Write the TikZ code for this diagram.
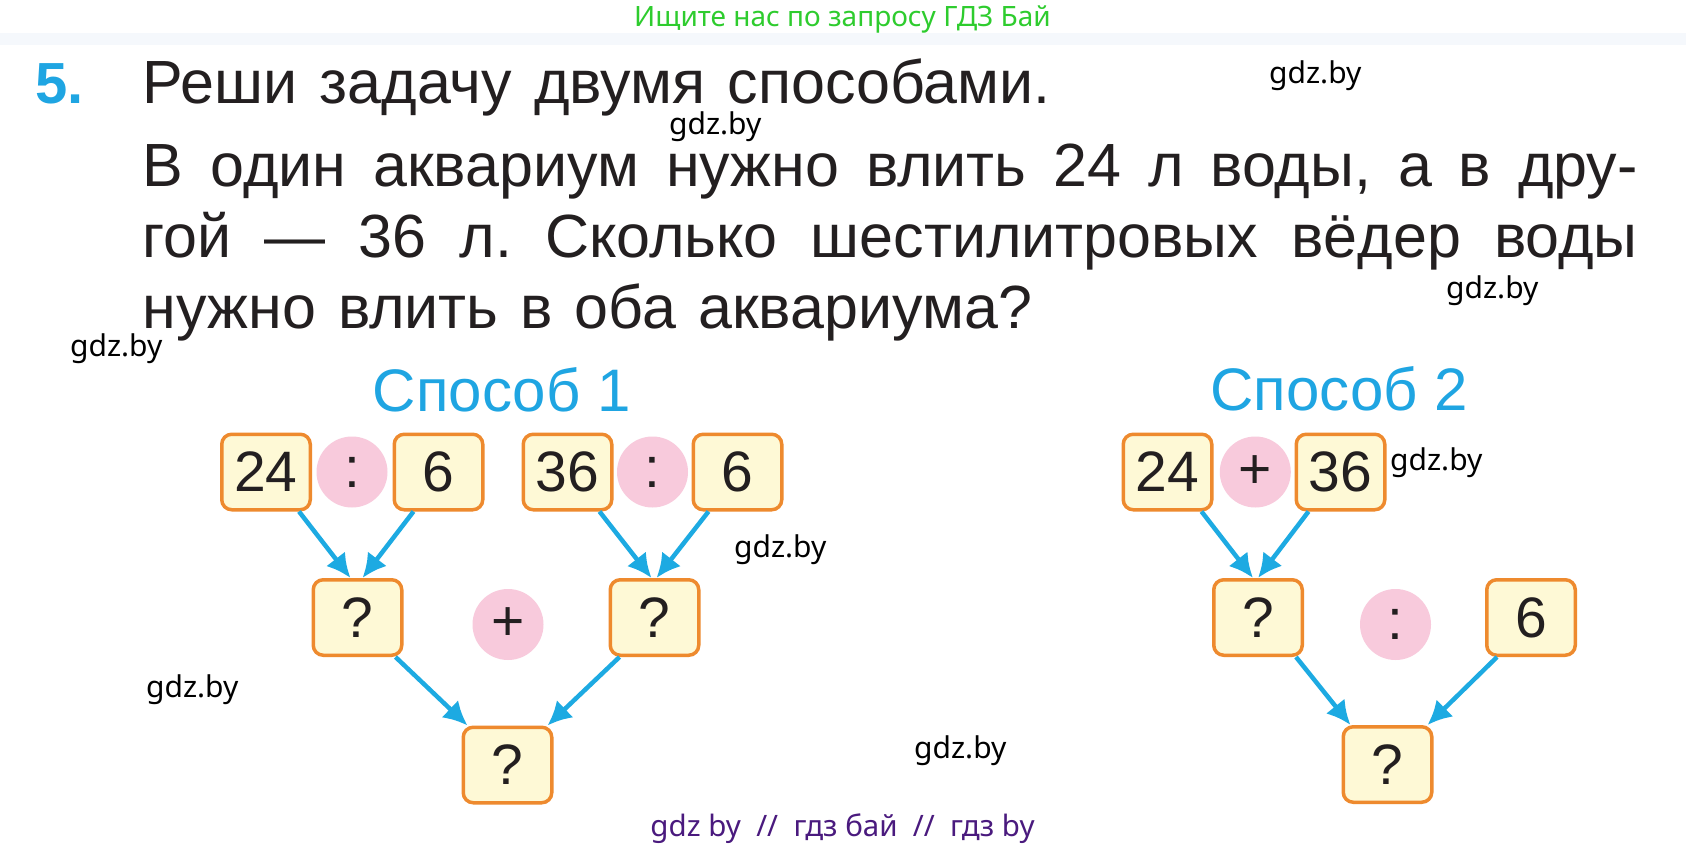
\documentclass[tikz,border=0pt]{standalone}
\usepackage{fontspec}
\setmainfont{Liberation Sans}
\newfontfamily\wmfont{Noto Sans}
\usetikzlibrary{arrows.meta}
\definecolor{numblue}{HTML}{1FA5E2}
\definecolor{arrowblue}{HTML}{1DAAE2}
\definecolor{boxline}{HTML}{EE8A2E}
\definecolor{boxfill}{HTML}{FEF9D6}
\definecolor{signpink}{HTML}{F8CADC}
\definecolor{adgreen}{HTML}{2ECC2E}
\definecolor{adpurple}{HTML}{4A1A7E}
\definecolor{inkblack}{HTML}{231F20}
\definecolor{bandblue}{HTML}{F5F8FC}
\newcommand\taskfont{\fontsize{61}{61}\selectfont\frenchspacing\spaceskip 22pt plus 30pt\relax}
\tikzset{
  numbox/.style={draw=boxline,line width=3.5pt,fill=boxfill,rounded corners=10pt,
    minimum width=88.5pt,minimum height=75.5pt,inner sep=0pt,text=inkblack,
    font=\fontsize{57}{57}\selectfont},
  sign/.style={circle,fill=signpink,minimum size=71pt,inner sep=0pt,text=inkblack,
    font=\fontsize{57}{57}\selectfont},
  flow/.style={draw=arrowblue,line width=4.5pt,-{Latex[length=24pt,width=24pt]}},
  textline/.style={anchor=base west,inner sep=0pt,text=inkblack,font=\taskfont},
  heading/.style={anchor=base,inner sep=0pt,text=numblue,font=\fontsize{60}{60}\selectfont},
  wm/.style={anchor=base west,inner sep=0pt,font=\wmfont\fontsize{30}{30}\selectfont}
}
\begin{document}
\begin{tikzpicture}[x=1pt,y=-1pt]
\useasboundingbox (0,0) rectangle (1686,848);
\fill[white] (0,0) rectangle (1686,848);
\fill[bandblue] (0,33) rectangle (1686,45);
\node[anchor=base,inner sep=0pt,text=adgreen,font=\wmfont\fontsize{28}{28}\selectfont] (ad) at (842.5,26.7) {Ищите нас по запросу ГДЗ Бай};

\node[anchor=base west,inner sep=0pt,text=numblue,font=\bfseries\fontsize{58}{58}\selectfont] (num) at (35,103.3) {5.};
\node[textline] (task) at (142.7,103.3) {Реши задачу двумя способами.};
\node[textline] (l2) at (142.7,186.7) {\makebox[1495pt][s]{В один аквариум нужно влить 24 л воды, а в дру-}};
\node[textline] (l3) at (142.7,257.3) {\makebox[1495pt][s]{гой — 36 л. Сколько шестилитровых вёдер воды}};
\node[textline] (l4) at (142.7,328.3) {нужно влить в оба аквариума?};

\node[heading] (way1) at (501.7,411.7) {Способ 1};
\node[heading] (way2) at (1339,410) {Способ 2};

\node[numbox] (a24) at (266,472) {24};
\node[sign] (adiv) at (352,472) {:};
\node[numbox] (a6) at (438.5,472) {6};
\node[numbox] (a36) at (567.5,472) {36};
\node[sign] (adivb) at (652.5,472) {:};
\node[numbox] (a6b) at (737.5,472) {6};
\node[numbox] (aq1) at (357.5,617.5) {?};
\node[sign] (aplus) at (508,624.5) {+};
\node[numbox] (aq2) at (654.5,617.5) {?};
\node[numbox] (ares) at (507.5,765) {?};
\draw[flow] ([xshift=33pt]a24.south) -- ([xshift=-7pt]aq1.north);
\draw[flow] ([xshift=-25pt]a6.south) -- ([xshift=5pt]aq1.north);
\draw[flow] ([xshift=32pt]a36.south) -- ([xshift=-3pt]aq2.north);
\draw[flow] ([xshift=-29pt]a6b.south) -- ([xshift=2pt]aq2.north);
\draw[flow] ([xshift=38pt]aq1.south) -- ([xshift=-40pt]ares.north);
\draw[flow] ([xshift=-35pt]aq2.south) -- ([xshift=40pt]ares.north);

\node[numbox] (b24) at (1167.5,472) {24};
\node[sign] (bplus) at (1255.3,472) {+};
\node[numbox] (b36) at (1340.5,472) {36};
\node[numbox] (bq) at (1258,617.5) {?};
\node[sign] (bdiv) at (1395.5,624.5) {:};
\node[numbox] (b6) at (1531,617.5) {6};
\node[numbox] (bres) at (1387.5,764.5) {?};
\draw[flow] ([xshift=34pt]b24.south) -- ([xshift=-5pt]bq.north);
\draw[flow] ([xshift=-32pt]b36.south) -- (bq.north);
\draw[flow] ([xshift=38pt]bq.south) -- ([xshift=-37pt]bres.north);
\draw[flow] ([xshift=-34pt]b6.south) -- ([xshift=40pt]bres.north);

\node[wm] (wm1) at (1269,83.3) {gdz.by};
\node[wm] (wm2) at (669,135) {gdz.by};
\node[wm] (wm3) at (1446,298) {gdz.by};
\node[wm] (wm4) at (70,356.7) {gdz.by};
\node[wm] (wm5) at (1390,470) {gdz.by};
\node[wm] (wm6) at (734,557) {gdz.by};
\node[wm] (wm7) at (146,697) {gdz.by};
\node[wm] (wm8) at (914,758) {gdz.by};
\node[anchor=base,inner sep=0pt,text=adpurple,font=\wmfont\fontsize{29.5}{29.5}\selectfont] (foot) at (842.5,836.7) {gdz by \ // \ гдз бай \ // \ гдз by};
\end{tikzpicture}
\end{document}
